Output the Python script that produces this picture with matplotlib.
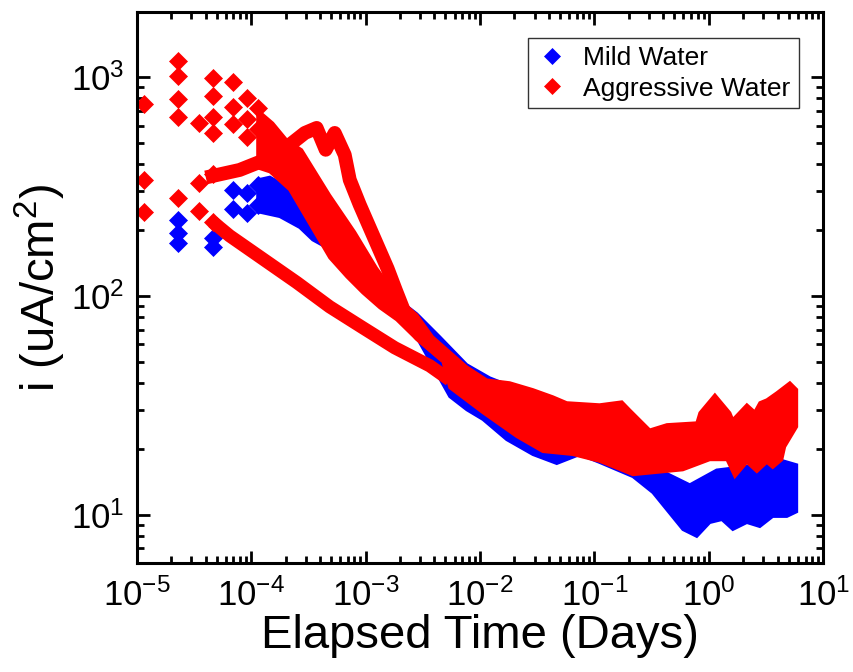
import numpy as np
import matplotlib.pyplot as plt
from matplotlib.ticker import NullFormatter, LogLocator

plt.rcParams['font.family'] = ['Liberation Sans', 'DejaVu Sans']
plt.rcParams['mathtext.fontset'] = 'custom'
plt.rcParams['mathtext.rm'] = 'Liberation Sans'
plt.rcParams['mathtext.it'] = 'Liberation Sans:italic'
plt.rcParams['mathtext.bf'] = 'Liberation Sans:bold'

SEC = 1 / 86400  # seconds -> days

# ---- Mild water ----
# first readings, one per diamond (time in s, i in uA/cm2)
mild_t = [2, 2, 2, 4, 4, 6, 6, 8, 8, 10, 10]
mild_i = [222, 193, 174, 184, 167, 305, 249, 295, 239, 321, 261]

# dense part of the runs: top and bottom edge of the blue band (days, uA/cm2)
mild_top_t = [1.14e-4, 1.46e-4, 2.17e-4, 5.94e-4, 1.33e-3, 2.81e-3, 4.46e-3, 7.67e-3,
              1.22e-2, 2.90e-2, 4.99e-2, 0.111, 0.217, 0.373, 0.682, 1.17, 2.28, 4.18, 5.87]
mild_top_i = [339, 349, 311, 190, 112, 82.8, 65.0, 48.5,
              42.2, 35.3, 31.8, 22.0, 16.9, 16.0, 13.7, 16.0, 16.7, 17.8, 16.9]
mild_bot_t = [1.14e-4, 1.78e-4, 2.66e-4, 3.45e-4, 5.94e-4, 1.33e-3, 2.81e-3, 5.44e-3,
              7.67e-3, 1.06e-2, 1.71e-2, 2.90e-2, 4.69e-2, 7.45e-2, 0.111, 0.217, 0.324,
              0.593, 0.785, 1.02, 1.30, 1.62, 2.15, 2.79, 3.62, 4.81, 5.87]
mild_bot_i = [242, 230, 205, 180, 154, 95.9, 64.3, 34.6,
              30.1, 27.2, 22.0, 18.8, 17.1, 18.8, 17.3, 14.9, 12.6,
              8.54, 7.94, 9.19, 9.48, 8.54, 9.19, 8.81, 9.80, 9.80, 10.3]

# ---- Aggressive water ----
aggr_t = [1, 1, 1, 2, 2, 2, 2, 2, 3, 3, 3, 4, 4, 4, 4, 4, 4, 6, 6, 6, 8, 8, 8, 10, 10]
aggr_i = [753, 339, 242, 1183, 1011, 794, 656, 280, 616, 328, 245,
          990, 818, 656, 555, 360, 218, 949, 730, 610, 802, 643, 532, 722, 579]

# bundle of falling runs + late band
aggr_top_t = [1.14e-4, 1.55e-4, 2.05e-4, 2.77e-4, 4.86e-4, 8.05e-4, 1.25e-3, 1.99e-3,
              2.81e-3, 3.86e-3, 7.67e-3, 1.15e-2, 1.82e-2, 2.90e-2, 4.33e-2, 5.74e-2,
              0.111, 0.174, 0.204, 0.305, 0.430, 0.785, 0.834, 1.13, 1.53, 1.62,
              2.15, 2.52, 2.79, 3.21, 3.93, 5.11, 5.87]
aggr_top_i = [707, 616, 516, 465, 289, 196, 134, 95.9,
              81.9, 65.0, 47.4, 41.3, 40.1, 37.3, 34.6, 32.5,
              31.8, 32.8, 30.1, 24.4, 25.8, 26.3, 29.2, 35.3, 29.2, 27.2,
              31.8, 29.5, 32.5, 33.5, 36.1, 40.1, 37.3]
aggr_bot_t = [1.14e-4, 1.46e-4, 2.17e-4, 3.74e-4, 4.86e-4, 6.85e-4, 9.46e-4, 1.33e-3,
              1.87e-3, 2.81e-3, 4.73e-3, 5.44e-3, 1.06e-2, 2.10e-2, 3.54e-2, 6.47e-2,
              0.111, 0.217, 0.593, 1.02, 1.44, 1.69, 2.15, 2.63, 3.21, 3.62,
              4.35, 4.61, 5.87]
aggr_bot_i = [384, 368, 305, 188, 149, 122, 103, 88.1,
              77.6, 63.0, 50.0, 38.0, 29.2, 22.7, 19.4, 18.8,
              17.5, 15.2, 16.0, 17.8, 17.8, 14.9, 17.3, 15.7, 17.3, 16.4,
              17.8, 20.4, 25.2]

# run that climbs to two peaks before falling
peak_t = [4.61e-5, 7.94e-5, 1.32e-4, 2.17e-4, 2.95e-4, 3.74e-4, 4.49e-4, 5.38e-4,
          6.58e-4, 7.28e-4, 8.89e-4, 1.11e-3, 1.56e-3, 1.84e-3, 2.20e-3, 2.98e-3, 4.46e-3]
peak_i = [353, 376, 418, 489, 555, 585, 465, 555,
          441, 339, 261, 200, 133, 106, 83.6, 66.4, 55.4]

# lowest run, falling straight
low_t = [4.61e-5, 6.50e-5, 2.51e-4, 4.86e-4, 9.46e-4, 1.80e-3, 3.64e-3, 5.44e-3]
low_i = [218, 188, 115, 89.1, 71.5, 57.9, 47.9, 41.3]

x_ticks = [1e-5, 1e-4, 1e-3, 1e-2, 1e-1, 1e0, 1e1]

BLUE = '#0000ff'
RED = '#ff0000'

fig, ax = plt.subplots(figsize=(8.54, 6.72), dpi=100)
fig.subplots_adjust(left=0.160, right=0.964, bottom=0.162, top=0.982)

ax.fill(np.r_[mild_top_t, mild_bot_t[::-1]], np.r_[mild_top_i, mild_bot_i[::-1]],
        color=BLUE, lw=2)
ax.plot(np.array(mild_t) * SEC, mild_i, 'D', color=BLUE, ms=9.5, mew=0.5,
        ls='none', label='Mild Water')

ax.plot(np.array(aggr_t) * SEC, aggr_i, 'D', color=RED, ms=9.5, mew=0.5,
        ls='none', label='Aggressive Water')
ax.fill(np.r_[aggr_top_t, aggr_bot_t[::-1]], np.r_[aggr_top_i, aggr_bot_i[::-1]],
        color=RED, lw=2)
ax.plot(peak_t, peak_i, color=RED, lw=10)
ax.plot(low_t, low_i, color=RED, lw=9.5, solid_capstyle='butt')

ax.set_xscale('log')
ax.set_yscale('log')
ax.set_xlim(1e-5, 10)
ax.set_ylim(6, 1980)
ax.set_xticks(x_ticks)
ax.xaxis.set_minor_locator(LogLocator(base=10, subs=np.arange(2, 10), numticks=20))
ax.yaxis.set_minor_formatter(NullFormatter())
ax.xaxis.set_minor_formatter(NullFormatter())

for s in ax.spines.values():
    s.set_linewidth(2.2)
ax.tick_params(which='both', direction='in', top=True, right=True, width=2)
ax.tick_params(which='major', length=9, labelsize=25)
ax.tick_params(axis='x', which='major', pad=11)
ax.tick_params(axis='y', which='major', pad=9)
ax.tick_params(which='minor', length=5)

ax.set_xlabel('Elapsed Time (Days)', fontsize=34, labelpad=1)
ax.set_ylabel('i (uA/cm$^2$)', fontsize=34, labelpad=2)

ax.legend(loc='upper right', bbox_to_anchor=(0.964, 0.953), fontsize=19,
          fancybox=False, edgecolor='#333333', framealpha=1, borderaxespad=0,
          handlelength=1.2, handletextpad=0.6, labelspacing=0.25, borderpad=0.3,
          numpoints=1, markerscale=0.85)

fig.savefig('out.png', dpi=100)
